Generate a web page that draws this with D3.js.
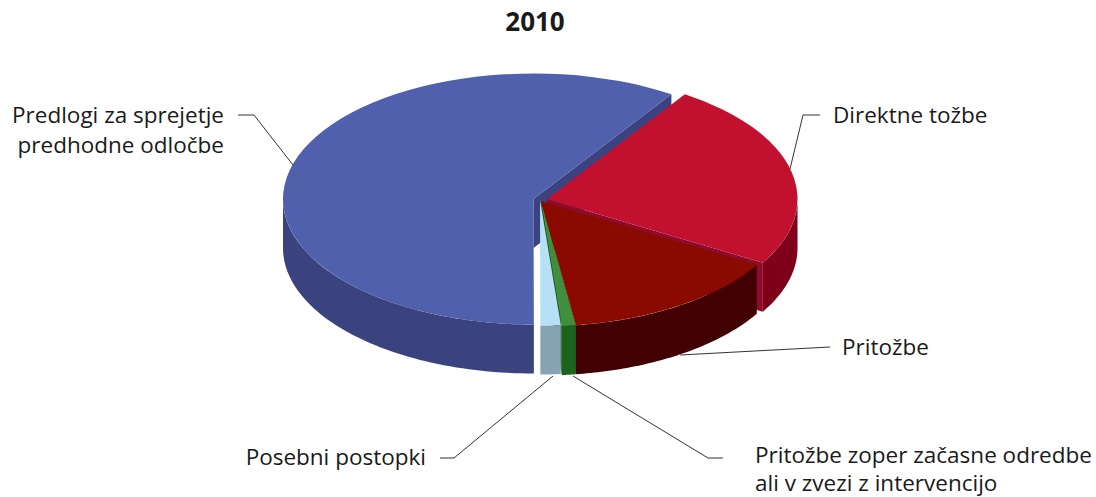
<!DOCTYPE html>
<html>
<head>
<meta charset="utf-8">
<script src="https://cdn.jsdelivr.net/npm/d3@7"></script>
<style>
    body { margin: 0; background: #fff; }
    text { font-family: "Open Sans", sans-serif; fill: #1a1a1a; }
</style>
</head>
<body>
<svg id="chart" width="1096" height="497"></svg>
<script>
// Data, share of cases
const title = "2010"
const categories = ["Direktne tožbe", "Pritožbe", "Pritožbe zoper začasne odredbe ali v zvezi z intervencijo", "Posebni postopki", "Predlogi za sprejetje predhodne odločbe"]
const values = [24.2, 14.3, 0.9, 1.3, 59.3]

// Layout
const config = {
    rx: 250.5,
    ry: 125.5,
    depth: 49,
    firstAngle: 33.4 * Math.PI / 180,
    fontSize: 22.5
}
const centers = [[547, 199], [541, 201], [541, 201], [540, 200], [533.5, 199]]
const topColors = ["#c1112f", "#8b0a00", "#3f8f3f", "#b7dff5", "#5060ac"]
const wallColors = ["#7f0019", "#420000", "#1c641e", "#87a2b3", "#3a437f"]
const cutColors = ["#8e0b2b", "#420000", "#1c641e", "#87a2b3", "#3a437f"]

const labels = [
    {i: 0, lines: ["Direktne tožbe"], x: 833, y: 123, leading: 30, anchor: "start", leader: [[820, 115], [803, 115], [790, 169]]},
    {i: 1, lines: ["Pritožbe"], x: 842, y: 355, leading: 30, anchor: "start", leader: [[830, 347], [680, 355]]},
    {i: 2, lines: ["Pritožbe zoper začasne odredbe", "ali v zvezi z intervencijo"], x: 755, y: 463, leading: 28, anchor: "start", leader: [[573, 376], [708, 458], [723, 458]]},
    {i: 3, lines: ["Posebni postopki"], x: 426, y: 465, leading: 30, anchor: "end", leader: [[553, 376], [454, 458], [440, 458]]},
    {i: 4, lines: ["Predlogi za sprejetje", "predhodne odločbe"], x: 224, y: 123, leading: 30, anchor: "end", leader: [[238, 115], [254, 115], [293, 165]]}
]

function wallArea(center) {
    return d3.area()
        .x(d => center[0] + d.r * Math.sin(d.a))
        .y0(d => center[1] - d.r * config.ry / config.rx * Math.cos(d.a))
        .y1(d => center[1] - d.r * config.ry / config.rx * Math.cos(d.a) + config.depth)
}

function drawWalls(g, d, i) {
    const area = wallArea(centers[i])

    // only the closing cut face looks towards the viewer, and only on the right half
    if (Math.sin(d.endAngle) > 0.01) {
        g.append("path")
            .attr("d", area([{a: d.endAngle, r: 0}, {a: d.endAngle, r: config.rx}]))
            .attr("fill", cutColors[i])
    }

    const a0 = Math.max(d.startAngle, Math.PI / 2)
    const a1 = Math.min(d.endAngle, 3 * Math.PI / 2)
    if (a1 > a0) {
        const steps = d3.range(0, 61).map(k => ({a: a0 + (a1 - a0) * k / 60, r: config.rx}))
        g.append("path")
            .attr("d", area(steps))
            .attr("fill", wallColors[i])
    }
}

function drawTop(g, d, i) {
    const arc = d3.arc()
        .innerRadius(0)
        .outerRadius(config.rx)
    g.append("path")
        .attr("transform", "translate(" + centers[i][0] + "," + centers[i][1] + ") scale(1," + (config.ry / config.rx) + ")")
        .attr("d", arc(d))
        .attr("fill", topColors[i])
}

function drawLabels(svg) {
    const line = d3.line()
    const g = svg.selectAll(".label")
        .data(labels)
        .join("g")
        .classed("label", true)

    g.append("path")
        .attr("d", d => line(d.leader))
        .attr("fill", "none")
        .attr("stroke", "#333")
        .attr("stroke-width", 1)

    g.each(function(d) {
        d3.select(this).selectAll("text")
            .data(d.lines)
            .join("text")
            .attr("x", d.x)
            .attr("y", (l, k) => d.y + k * d.leading)
            .attr("text-anchor", d.anchor)
            .attr("font-size", config.fontSize)
            .text(l => l)
    })
}

function update() {
    const svg = d3.select("#chart")

    svg.append("text")
        .attr("x", 535)
        .attr("y", 31)
        .attr("text-anchor", "middle")
        .attr("font-size", 26)
        .attr("font-weight", 700)
        .text(title)

    const pie = d3.pie()
        .sort(null)
        .startAngle(config.firstAngle)
        .endAngle(config.firstAngle + 2 * Math.PI)
    const slices = pie(values)
    const lastIndex = slices.length - 1

    const blue = svg.append("g").classed("slice-main", true)
    drawWalls(blue, slices[lastIndex], lastIndex)
    drawTop(blue, slices[lastIndex], lastIndex)

    const walls = svg.append("g").classed("walls", true)
    slices.slice(0, lastIndex).forEach((d, i) => drawWalls(walls, d, i))

    const tops = svg.append("g").classed("tops", true)
    slices.slice(0, lastIndex).reverse().forEach(d => drawTop(tops, d, d.index))

    drawLabels(svg)
}

update()
</script>
</body>
</html>
